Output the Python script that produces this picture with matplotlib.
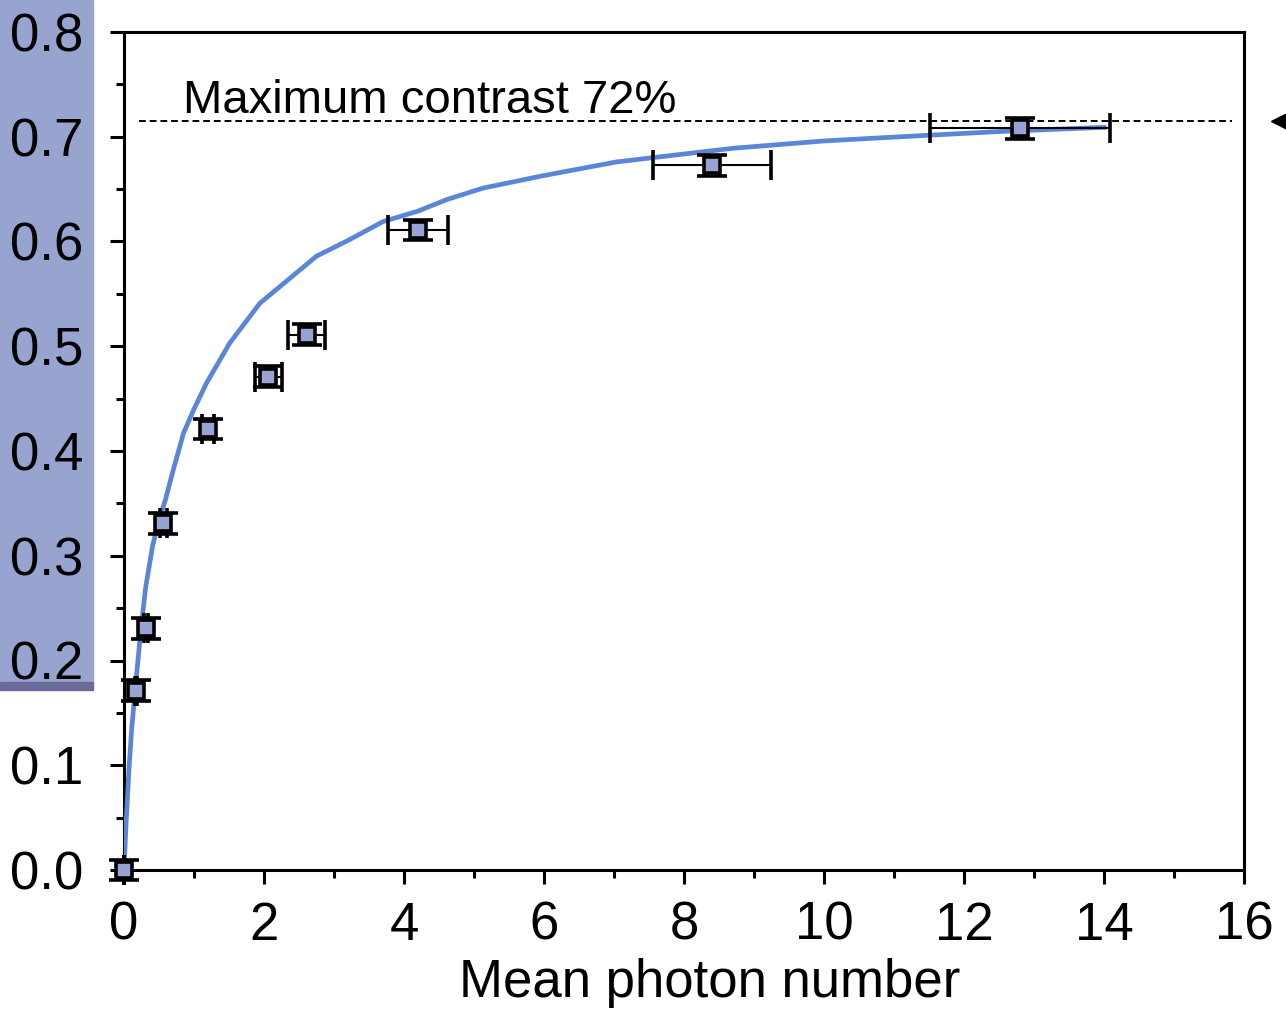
import numpy as np
import matplotlib.pyplot as plt
from matplotlib.patches import Rectangle
from matplotlib.ticker import MultipleLocator

plt.rcParams['font.family'] = ['Liberation Sans', 'DejaVu Sans']

# measured points
n_mean = [0.0, 0.17, 0.31, 0.56, 1.20, 2.06, 2.61, 4.20, 8.40, 12.80]
contrast = [0.0, 0.171, 0.231, 0.331, 0.421, 0.471, 0.511, 0.611, 0.673, 0.708]
x_err = [0.0, 0.015, 0.03, 0.05, 0.08, 0.19, 0.26, 0.43, 0.84, 1.28]
y_err = [0.01, 0.01, 0.01, 0.01, 0.01, 0.01, 0.01, 0.01, 0.01, 0.01]

# theory curve
curve_x = [0, 0.03, 0.07, 0.11, 0.16, 0.24, 0.31, 0.41, 0.50, 0.59, 0.70, 0.85,
           1.00, 1.18, 1.51, 1.94, 2.30, 2.75, 3.20, 3.70, 4.20, 4.61, 5.13,
           6.00, 7.04, 8.70, 10.0, 11.09, 12.51, 14.0]
curve_y = [0, 0.045, 0.095, 0.135, 0.172, 0.229, 0.270, 0.310, 0.334, 0.353, 0.381, 0.417,
           0.440, 0.465, 0.503, 0.541, 0.561, 0.586, 0.601, 0.619, 0.629, 0.640, 0.651,
           0.663, 0.676, 0.689, 0.696, 0.700, 0.705, 0.709]

max_contrast = 0.715

fig = plt.figure(figsize=(12.86, 10.16), dpi=100)

# blue block on the left edge, on a background axes
bg = fig.add_axes([0, 0, 1, 1], zorder=-1)
bg.set_axis_off()
bg.set_xlim(0, 1286)
bg.set_ylim(1016, 0)
bg.add_patch(Rectangle((0, 0), 93, 682, color='#97a4cf'))
bg.add_patch(Rectangle((0, 682), 93, 8, color='#6a6a99'))

ax = fig.add_axes([124/1286, 1 - 870/1016, 1120/1286, 838/1016])
ax.patch.set_alpha(0)

ax.plot([0.22, 15.83], [max_contrast, max_contrast], ls=(0, (3.5, 2)), color='black', lw=1.4)
ax.text(0.84, 0.7227, 'Maximum contrast 72%', fontsize=34, va='baseline')

ax.plot(curve_x, curve_y, color='#5b86d8', lw=3.4, zorder=3)

eb = ax.errorbar(n_mean, contrast, xerr=x_err, yerr=y_err, fmt='s', ms=11,
                 mfc='#97a4d3', mec='black', mew=2.6, ecolor='black', elinewidth=1.5,
                 capsize=11, capthick=1.8, zorder=4)
for art in eb.get_children():
    art.set_clip_on(False)

# arrow mark on the right
ax.plot([16.5], [max_contrast], marker='<', color='black', ms=11, clip_on=False)

ax.set_xlim(0, 16)
ax.set_ylim(0, 0.8)
ax.xaxis.set_major_locator(MultipleLocator(2))
ax.xaxis.set_minor_locator(MultipleLocator(1))
ax.yaxis.set_major_locator(MultipleLocator(0.1))
ax.yaxis.set_minor_locator(MultipleLocator(0.05))
ax.yaxis.set_major_formatter(plt.FormatStrFormatter('%.1f'))
ax.tick_params(which='major', direction='out', length=10, width=2.2, labelsize=38)
ax.tick_params(axis='y', which='major', pad=19)
ax.tick_params(axis='x', which='major', pad=12)
ax.tick_params(which='minor', direction='out', length=6, width=2.2)
for s in ax.spines.values():
    s.set_linewidth(2.2)

ax.set_xlabel('Mean photon number', fontsize=38)
ax.xaxis.set_label_coords(0.523, -0.105)

fig.savefig('out.png', dpi=100)
